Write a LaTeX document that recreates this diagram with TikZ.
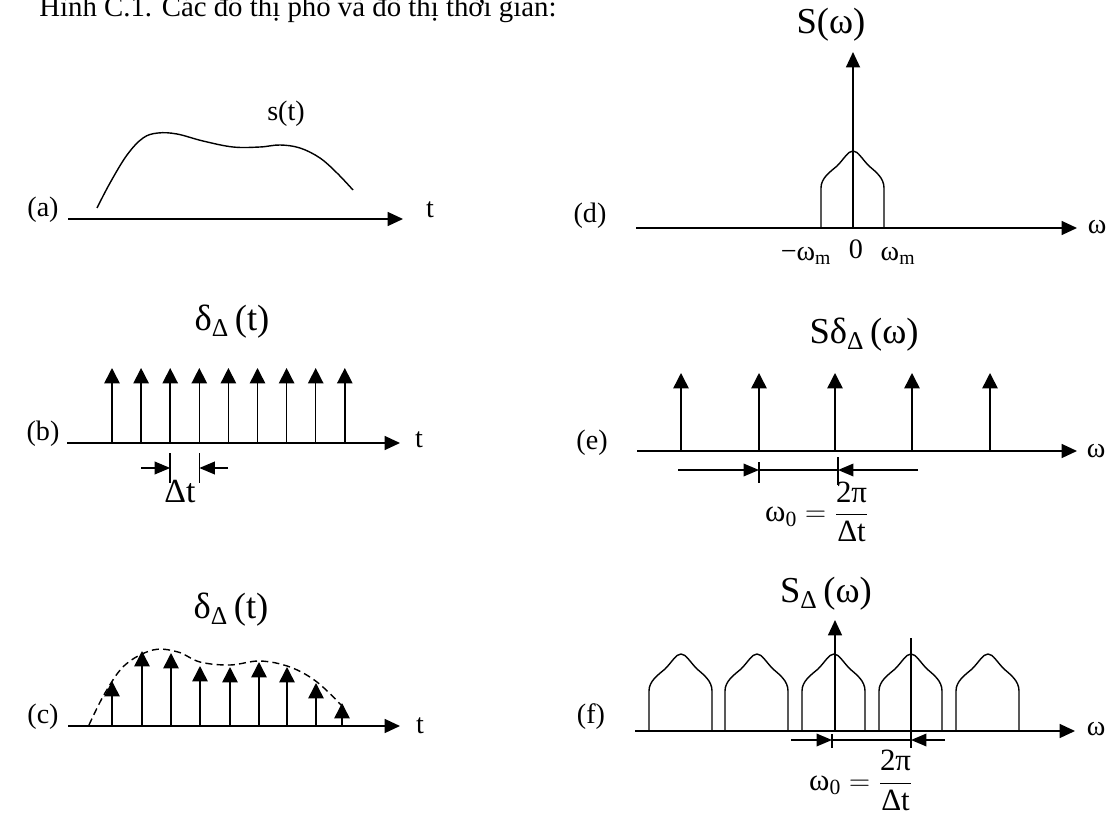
\documentclass[tikz,border=0pt]{standalone}
\usepackage{amsmath}
\usepackage{fontspec}
\setmainfont{Liberation Serif}
\usetikzlibrary{arrows.meta,positioning,calc}

\begin{document}
\begin{tikzpicture}[
    x=0.025cm, y=-0.025cm,
    lbl/.style={font=\fontsize{20}{24}\selectfont, inner sep=0pt},
    eqn/.style={font=\fontsize{26}{30}\selectfont, inner sep=0pt},
    frac/.style={font=\fontsize{22}{26}\selectfont, inner sep=0pt},
    axisline/.style={-{Triangle[length=11pt,width=10pt]}, line width=1.1pt},
    impulse/.style={-{Triangle[length=11pt,width=11pt]}, line width=1.1pt},
    dimarrow/.style={-{Triangle[length=11pt,width=9pt]}, line width=1pt},
    dimtick/.style={line width=1pt},
    sigline/.style={line width=1pt},
    envelope/.style={line width=1pt, dash pattern=on 5pt off 3pt},
    hump/.pic={\draw[sigline] (-32,0) -- (-32,-40)
        .. controls (-32,-50) and (-23,-56) .. (-16,-62)
        .. controls (-9,-69) and (-5,-77) .. (0,-77)
        .. controls (5,-77) and (9,-69) .. (16,-62)
        .. controls (23,-56) and (31,-50) .. (31,-40) -- (31,0);}
]
\useasboundingbox (0,0) rectangle (1111,814);

\node[anchor=base west, font=\fontsize{20.5}{24}\selectfont, inner sep=0pt] (title) at (39,17) {Hình C.1. Các đồ thị phổ và đồ thị thời gian:};

% (a) signal
\coordinate (a0) at (68,219);
\coordinate (a1) at (403,219);
\draw[axisline] (a0) -- (a1);
\node[lbl] (lbla) at (43,210) {(a)};
\node[lbl] (ta) at (430,210) {t};
\node[lbl] (sa) at (286,114) {s(t)};
\draw[sigline] plot[smooth, tension=0.6] coordinates {(97,208) (110,183) (127,155) (143,138) (158,133) (177,134) (203,141) (233,147) (260,147) (280,145) (300,148) (320,158) (337,173) (353,190)};

% (b) impulse train
\coordinate (b0) at (67,443);
\coordinate (b1) at (400,443);
\draw[axisline] (b0) -- (b1);
\node[lbl] (lblb) at (43,434) {(b)};
\node[lbl] (tb) at (419,440) {t};
\node[eqn] (db) at (232,322) {$\text{δ}_{\text{Δ}}\,\text{(t)}$};
\foreach \i in {0,...,8} {
  \coordinate (bb\i) at ({112+29.1*\i},443);
  \coordinate (bt\i) at ({112+29.1*\i},368);
  \draw[impulse] (bb\i) -- (bt\i);
}
\coordinate (bl) at (141,468);
\coordinate (br) at (228,468);
\draw[dimtick] ($(bb2)+(0,10)$) -- ($(bb2)+(0,40)$);
\draw[dimtick] ($(bb3)+(0,10)$) -- ($(bb3)+(0,40)$);
\draw[dimarrow] (bl) -- (bl -| bb2);
\draw[dimarrow] (br) -- (br -| bb3);
\node[font=\fontsize{24}{28}\selectfont, inner sep=0pt] (dtb) at (180,492) {Δt};

% (c) sampled signal
\coordinate (c0) at (68,726);
\coordinate (c1) at (400,726);
\draw[axisline] (c0) -- (c1);
\node[lbl] (lblc) at (43,717) {(c)};
\node[lbl] (tc) at (420,726) {t};
\node[eqn] (dc) at (231,610) {$\text{δ}_{\text{Δ}}\,\text{(t)}$};
\draw[envelope] plot[smooth, tension=0.6] coordinates {(89,725) (105,693) (125,665) (153,650) (178,652) (200,662) (230,665) (260,661) (290,667) (317,682) (343,707)};
\foreach \x/\h [count=\i] in {112/681, 142/651, 171/653, 200/666, 230/667, 259/662, 287/667, 316/683, 342/703} {
  \coordinate (cb\i) at (\x,726);
  \coordinate (ct\i) at (\x,\h);
  \draw[impulse] (cb\i) -- (ct\i);
}

% (d) spectrum
\coordinate (d0) at (636,228);
\coordinate (d1) at (1077,228);
\coordinate (dz) at (853,228);
\coordinate (dtop) at (853,52);
\draw[axisline] (d0) -- (d1);
\draw[axisline] (dz) -- (dtop);
\pic at (dz) {hump};
\node[lbl] (lbld) at (590,216) {(d)};
\node[lbl] (wd) at (1097,227) {ω};
\node[eqn] (sd) at (831,25) {S(ω)};
\node[lbl, anchor=base] (wmneg) at (806,260) {−ω\textsubscript{m}};
\node[lbl, anchor=base] (zero) at (856,258) {0};
\node[lbl, anchor=base] (wmpos) at (898,260) {ω\textsubscript{m}};

% (e) spectrum of impulse train
\coordinate (e0) at (637,451);
\coordinate (e1) at (1077,451);
\draw[axisline] (e0) -- (e1);
\node[lbl] (lble) at (592,443) {(e)};
\node[lbl] (we) at (1096,451) {ω};
\node[eqn] (se) at (864,335) {$\text{Sδ}_{\text{Δ}}\,\text{(ω)}$};
\foreach \x [count=\i] in {681,759,835,912,990} {
  \coordinate (eb\i) at (\x,451);
  \coordinate (et\i) at (\x,373);
  \draw[impulse] (eb\i) -- (et\i);
}
\coordinate (el) at (678,470);
\coordinate (er) at (918,470);
\coordinate (ek) at (838,470);
\draw[dimtick] ($(eb2)+(0,11)$) -- ($(eb2)+(0,32)$);
\draw[dimtick] ($(ek)+(0,-13)$) -- ($(ek)+(0,15)$);
\draw[dimarrow] (el) -- (el -| eb2);
\draw[dimtick] (el -| eb2) -- (ek);
\draw[dimarrow] (er) -- (ek);
\node[frac] (fe) at (817,512) {$\text{ω}_{\text{0}} = \dfrac{\text{2π}}{\text{Δt}}$};

% (f) spectrum of sampled signal
\coordinate (f0) at (635,731);
\coordinate (f1) at (1075,731);
\coordinate (fz) at (835,731);
\coordinate (ftop) at (835,620);
\draw[axisline] (f0) -- (f1);
\foreach \x [count=\i] in {681,757,834,911,988} {
  \coordinate (fc\i) at (\x,731);
  \pic at (fc\i) {hump};
}
\draw[axisline] (fz) -- (ftop);
\coordinate (fm) at (911,638);
\coordinate (fmb) at (911,748);
\draw[dimtick] (fm) -- (fmb);
\node[lbl] (lblf) at (591,717) {(f)};
\node[lbl] (wf) at (1096,729) {ω};
\node[eqn] (sf) at (826,594) {$\text{S}_{\text{Δ}}\,\text{(ω)}$};
\coordinate (fl) at (791,740);
\coordinate (fr) at (945,740);
\coordinate (fk) at (832,740);
\draw[dimtick] ($(fk)+(0,-6)$) -- ($(fk)+(0,8)$);
\draw[dimarrow] (fl) -- (fk);
\draw[dimtick] (fk) -- (fl -| fm);
\draw[dimarrow] (fr) -- (fr -| fm);
\node[frac, anchor=south] (ff) at (861,811) {$\text{ω}_{\text{0}} = \dfrac{\text{2π}}{\text{Δt}}$};
\end{tikzpicture}
\end{document}
